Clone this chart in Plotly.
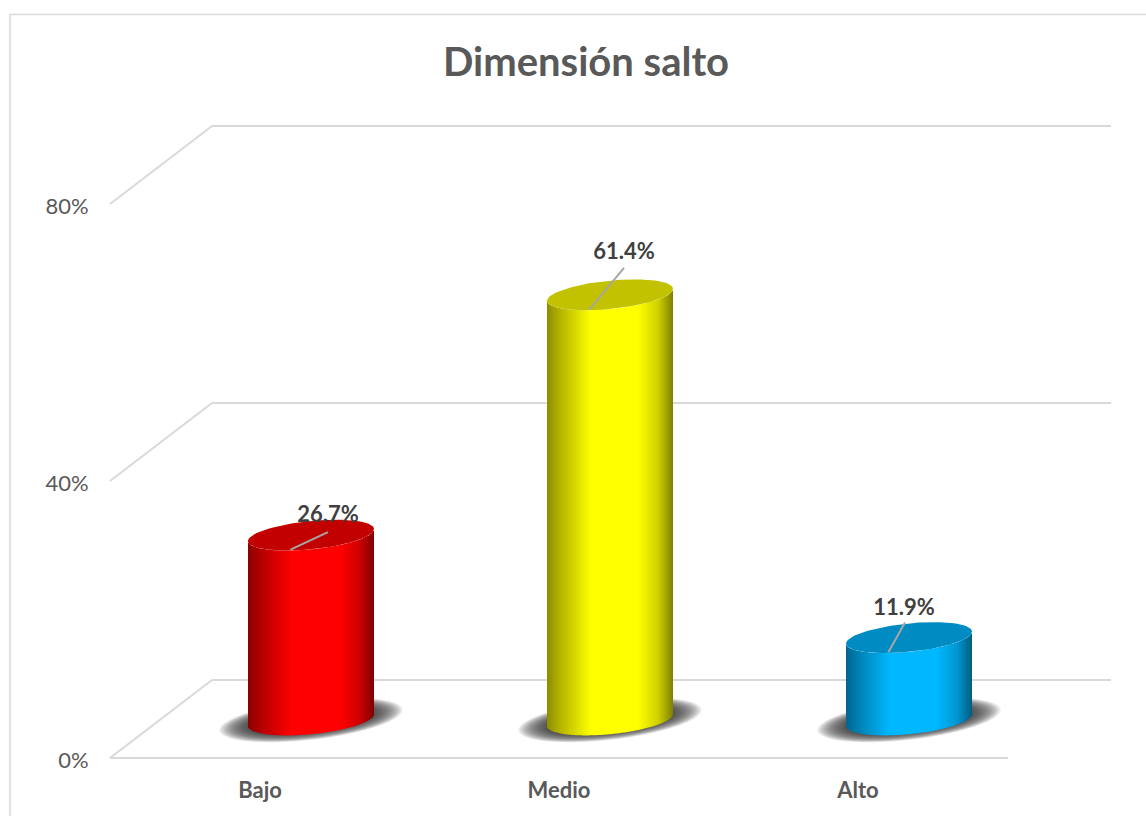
import numpy as np
import plotly.graph_objects as go

categories = ["Bajo", "Medio", "Alto"]
values = [26.7, 61.4, 11.9]
y_ticks = [0, 40, 80]
y_tick_labels = ["0%", "40%", "80%"]
title = "Dimensión salto"

side_colors = [(255, 0, 0), (255, 255, 0), (0, 184, 255)]
bar_centers = [311, 610, 909]
label_offsets = [(17, -19), (14, -41), (-5, -28)]
leader_ends = [(17, -3), (14, -27), (-4, -15)]

W, H = 1146, 816
L, B, FLOOR = 100, 48, 758
U = 277 / 40
DX, DY = 102, 78
BAR_DX, BAR_DY = 51, 38
A, EB, K = 63, 14.2, 0.095
GRID = "#D9D9D9"
TXT = "#595959"
FONT = "Lato"
depth = BAR_DY / U
ymin, ymax = -(H - B - FLOOR) / U, FLOOR / U


def shade(rgb, f):
    return "rgb(%d,%d,%d)" % tuple(int(round(c * f)) for c in rgb)


def ell(cx, yc, a, b, k=K, n=90):
    t = np.linspace(0, 2 * np.pi, n)
    return cx + a * np.cos(t), yc + (b * np.sin(t) + k * a * np.cos(t)) / U


fig = go.Figure()
shapes = []

# frame of the chart area
shapes.append(dict(type="path", xref="paper", yref="paper", layer="below",
                   path="M %f %f L %f %f L %f %f" % (
                       (10 - L) / (W - L), -0.2,
                       (10 - L) / (W - L), (H - B - 14.5) / (H - B),
                       1.01, (H - B - 14.5) / (H - B)),
                   line=dict(color=GRID, width=1.5)))

# perspective gridlines
for v in y_ticks:
    yb = v + DY / U
    shapes.append(dict(type="line", xref="x", yref="y", layer="below",
                       x0=110, x1=110 + DX, y0=v, y1=yb,
                       line=dict(color=GRID, width=2)))
    shapes.append(dict(type="line", xref="x", yref="y", layer="below",
                       x0=110 + DX, x1=1111, y0=yb, y1=yb,
                       line=dict(color=GRID, width=2)))
shapes.append(dict(type="line", xref="x", yref="y", layer="below",
                   x0=110, x1=1008, y0=0, y1=0, line=dict(color=GRID, width=2)))

# soft shadows on the floor
for cx in bar_centers:
    for i in range(30):
        ex, ey = ell(cx, depth, 92 - 1.0 * i, 20 - 0.25 * i, k=0.11, n=48)
        p = "M " + " L ".join("%.2f %.3f" % (a, b) for a, b in zip(ex, ey)) + " Z"
        shapes.append(dict(type="path", xref="x", yref="y", layer="below", path=p,
                           fillcolor="rgba(50,50,50,0.055)", line=dict(width=0)))

# cylinder sides: thin bars shaded across the width
for cat, val, cx, rgb in zip(categories, values, bar_centers, side_colors):
    xs = np.arange(cx - A, cx + A) + 0.5
    dx = xs - cx
    u = (xs - (cx - A)) / (2 * A)
    f = np.interp(u, [0, 0.1, 0.35, 0.72, 0.88, 1], [0.55, 0.7, 1, 1, 0.82, 0.5])
    base = depth + (K * dx - EB * np.sqrt(1 - (dx / A) ** 2)) / U
    fig.add_trace(go.Bar(x=xs, y=[val] * len(xs), base=base, width=1,
                         marker=dict(color=[shade(rgb, q) for q in f], line=dict(width=0)),
                         name=cat, showlegend=False))

# cylinder tops, leaders, value labels
for val, cx, rgb, lo, le in zip(values, bar_centers, side_colors, label_offsets, leader_ends):
    yc = val + depth
    ex, ey = ell(cx, yc, A, EB)
    fig.add_trace(go.Scatter(x=ex, y=ey, mode="lines", fill="toself",
                             fillcolor=shade(rgb, 0.76), line=dict(width=0),
                             showlegend=False, hoverinfo="skip"))
    fig.add_trace(go.Scatter(x=[cx - 20.5, cx + le[0]],
                             y=[yc - 14.5 / U, yc - le[1] / U],
                             mode="lines", line=dict(color="#A6A6A6", width=2),
                             showlegend=False, hoverinfo="skip"))
    fig.add_trace(go.Scatter(x=[cx + lo[0]], y=[yc - lo[1] / U], mode="text",
                             text=["%.1f%%" % val], textposition="middle center",
                             textfont=dict(family=FONT, size=22, color="#404040", weight="bold"),
                             showlegend=False, hoverinfo="skip"))

fig.update_layout(
    width=W, height=H, autosize=False,
    margin=dict(l=L, r=0, t=0, b=B, pad=0),
    paper_bgcolor="white", plot_bgcolor="rgba(0,0,0,0)",
    barmode="overlay", showlegend=False, shapes=shapes,
    title=dict(text=title, x=586 / W, xanchor="center", xref="container",
               y=1 - 62 / H, yanchor="middle",
               font=dict(family=FONT, size=40, color=TXT, weight="bold")),
    xaxis=dict(range=[L, W], showgrid=False, zeroline=False, showline=False,
               tickmode="array", tickvals=[c - BAR_DX for c in bar_centers],
               ticktext=categories, ticks="outside", ticklen=3, tickcolor="rgba(0,0,0,0)",
               tickfont=dict(family=FONT, size=22, color=TXT, weight="bold")),
    yaxis=dict(range=[ymin, ymax], showgrid=False, zeroline=False, showline=False,
               tickmode="array", tickvals=y_ticks, ticktext=y_tick_labels,
               ticks="outside", ticklen=6, tickcolor="rgba(0,0,0,0)", ticklabelshift=2,
               tickfont=dict(family=FONT, size=22, color=TXT)),
)

fig.write_html("out.html", post_script="document.body.style.margin='0';",
               config={"displayModeBar": False})
